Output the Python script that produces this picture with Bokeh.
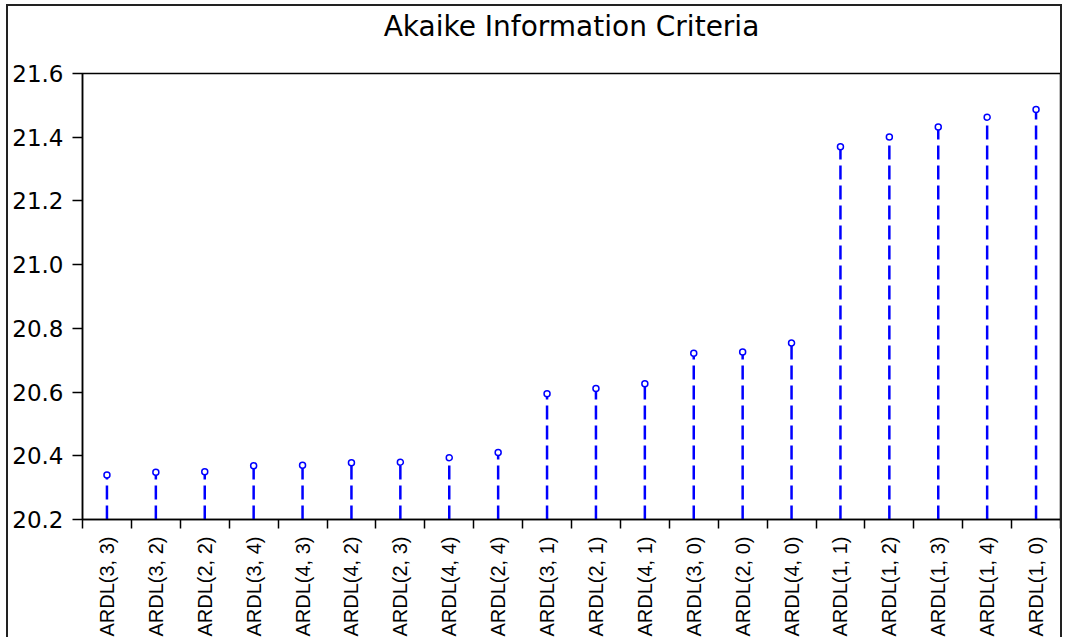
import math
from bokeh.plotting import figure
from bokeh.models import (FixedTicker, NumeralTickFormatter, Range1d, ColumnDataSource,
                          LinearAxis)
from bokeh.embed import file_html
from bokeh.resources import INLINE

models = ["ARDL(3, 3)", "ARDL(3, 2)", "ARDL(2, 2)", "ARDL(3, 4)", "ARDL(4, 3)",
          "ARDL(4, 2)", "ARDL(2, 3)", "ARDL(4, 4)", "ARDL(2, 4)", "ARDL(3, 1)",
          "ARDL(2, 1)", "ARDL(4, 1)", "ARDL(3, 0)", "ARDL(2, 0)", "ARDL(4, 0)",
          "ARDL(1, 1)", "ARDL(1, 2)", "ARDL(1, 3)", "ARDL(1, 4)", "ARDL(1, 0)"]
aic = [20.340, 20.348, 20.350, 20.369, 20.370, 20.378, 20.380, 20.394, 20.410, 20.595,
       20.611, 20.626, 20.722, 20.726, 20.754, 21.370, 21.401, 21.432, 21.463, 21.487]
y_ticks = [20.2, 20.4, 20.6, 20.8, 21.0, 21.2, 21.4, 21.6]
title_text = "Akaike Information Criteria"

idx = list(range(len(models)))
base = [y_ticks[0]] * len(models)
src = ColumnDataSource(dict(x=idx, y=aic, base=base))

p = figure(width=1056, height=633, output_backend="svg", toolbar_location=None,
           x_range=Range1d(-0.5, len(models) - 0.5), y_range=Range1d(y_ticks[0], y_ticks[-1]),
           min_border_left=74, min_border_right=4, min_border_top=64, min_border_bottom=119)
p.styles = {"border-left": "2px solid #222", "border-top": "2px solid #222",
            "border-right": "2px solid #222", "margin": "4px 0px 0px 6px"}
p.background_fill_color = "white"
p.border_fill_color = "white"
p.outline_line_color = "black"
p.outline_line_width = 1.5
p.xgrid.visible = False
p.ygrid.visible = False

# title drawn as the label of a bare axis above the frame
top = LinearAxis(ticker=FixedTicker(ticks=[]), axis_label=title_text)
top.axis_line_color = None
top.major_tick_line_color = None
top.minor_tick_line_color = None
top.major_tick_out = 0
top.major_tick_in = 0
top.minor_tick_out = 0
top.minor_tick_in = 0
top.major_label_text_font_size = "0px"
top.major_label_standoff = 0
top.axis_label_standoff = 31
top.axis_label_text_font = "DejaVu Sans"
top.axis_label_text_font_size = "28px"
top.axis_label_text_font_style = "normal"
top.axis_label_text_color = "black"
p.add_layout(top, "above")

p.segment(x0="x", y0="base", x1="x", y1="y", source=src, line_color="#0000ff",
          line_width=2.5, line_dash="14 6")
p.scatter(x="x", y="y", source=src, marker="circle", size=6, fill_color="white",
          line_color="#0000ff", line_width=1.5)

xa = p.below[0]
xa.ticker = FixedTicker(ticks=idx, minor_ticks=[i - 0.5 for i in range(len(models) + 1)])
xa.major_label_overrides = {i: m for i, m in enumerate(models)}
xa.major_label_orientation = math.pi / 2
xa.major_tick_line_color = None
xa.major_tick_out = 0
xa.major_tick_in = 0
xa.minor_tick_line_color = "black"
xa.minor_tick_line_width = 1.5
xa.minor_tick_out = 9
xa.minor_tick_in = 0
xa.major_label_standoff = 8
xa.major_label_text_font = "Liberation Sans"
xa.major_label_text_font_size = "20px"
xa.major_label_text_color = "black"
xa.axis_line_color = "black"
xa.axis_line_width = 1.5

ya = p.left[0]
ya.ticker = FixedTicker(ticks=y_ticks, minor_ticks=[])
ya.formatter = NumeralTickFormatter(format="0.0")
ya.major_tick_out = 10
ya.major_tick_in = 0
ya.major_tick_line_width = 1.5
ya.major_tick_line_color = "black"
ya.major_label_standoff = 9
ya.major_label_text_font = "DejaVu Sans"
ya.major_label_text_font_size = "23px"
ya.major_label_text_color = "black"
ya.axis_line_color = "black"
ya.axis_line_width = 1.5

open("out.html", "w").write(file_html(p, INLINE))
